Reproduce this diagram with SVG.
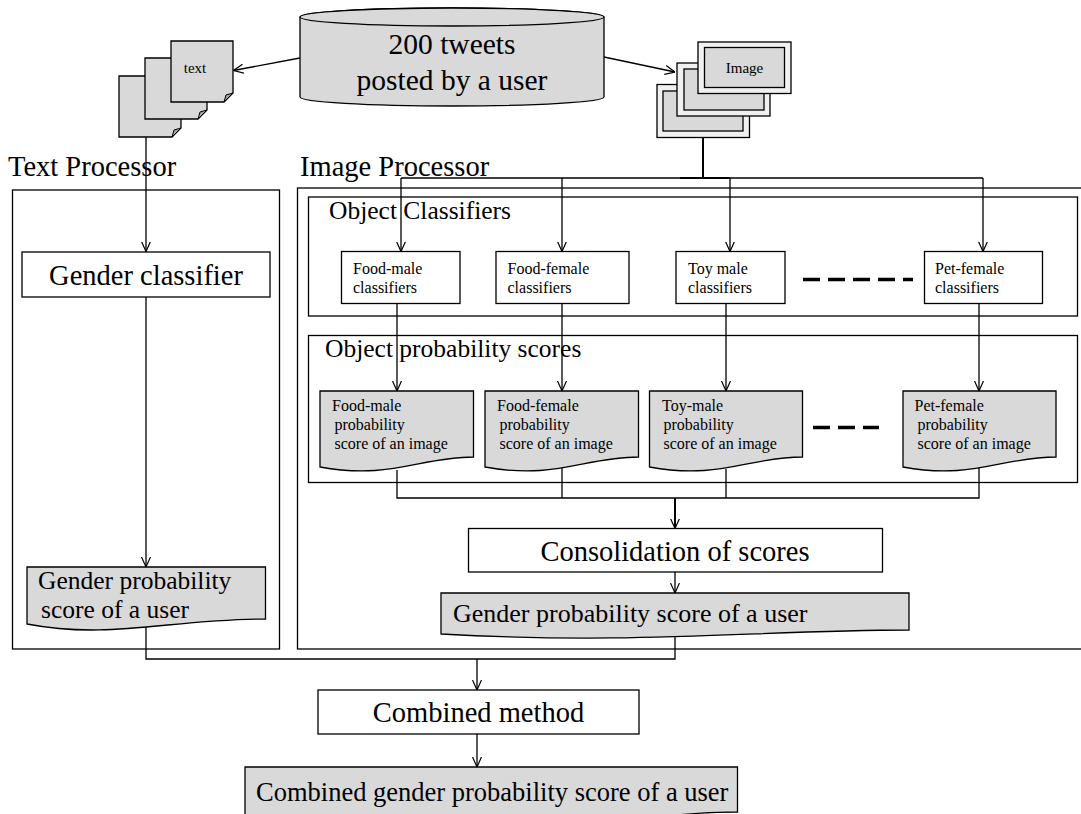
<svg xmlns="http://www.w3.org/2000/svg" width="1081" height="814" viewBox="0 0 1081 814">
<defs>
<marker id="arr" viewBox="0 0 10 10" refX="10" refY="5" markerWidth="10" markerHeight="10" markerUnits="userSpaceOnUse" orient="auto">
<path d="M0,0.5 L10,5 L0,9.5" fill="none" stroke="#000" stroke-width="1.2"/>
</marker>
<style>
text{font-family:"Liberation Serif","Times New Roman",serif;fill:#000}
.box{fill:#fff;stroke:#000;stroke-width:1.3}
.frame{fill:none;stroke:#000;stroke-width:1.3}
.gray{fill:#d9d9d9;stroke:#000;stroke-width:1.3}
.light{fill:#f0f0f0;stroke:#000;stroke-width:1.3}
.fold{fill:#a6a6a6;stroke:#000;stroke-width:1}
.ln{fill:none;stroke:#000;stroke-width:1.3}
.thick{fill:none;stroke:#000;stroke-width:2}
.dash{fill:none;stroke:#000;stroke-width:3.5;stroke-dasharray:17 8}
.big{font-size:28.5px}
.head{font-size:25.5px}
.sm{font-size:16px}
</style>
</defs>

<!-- containers -->
<g id="text-processor">
<text x="8" y="176" class="big">Text Processor</text>
<rect x="12.5" y="190" width="267" height="459" class="frame"/>
</g>
<g id="image-processor">
<text x="300" y="176" class="big">Image Processor</text>
<rect x="297.5" y="188" width="800" height="461" class="frame"/>
</g>
<g id="object-classifiers">
<rect x="308.5" y="197" width="769" height="119" class="frame"/>
<text x="329" y="219" class="head">Object Classifiers</text>
</g>
<g id="object-probability-scores">
<rect x="308.5" y="335.5" width="769" height="147" class="frame"/>
<text x="325" y="357" class="head">Object probability scores</text>
</g>

<!-- connectors -->
<g id="connectors">
<line x1="300" y1="58" x2="233.5" y2="70.5" class="ln" marker-end="url(#arr)"/>
<line x1="604" y1="57" x2="675" y2="72" class="ln" marker-end="url(#arr)"/>
<line x1="146" y1="137" x2="146" y2="251.5" class="ln" marker-end="url(#arr)"/>
<line x1="146" y1="297" x2="146" y2="567" class="ln" marker-end="url(#arr)"/>
<polyline points="703,138 703,178" class="thick"/>
<polyline points="401,178 983,178" class="ln"/>
<line x1="680" y1="178" x2="730" y2="178" class="thick"/>
<line x1="401" y1="178" x2="401" y2="251.5" class="ln" marker-end="url(#arr)"/>
<line x1="562" y1="178" x2="562" y2="251.5" class="ln" marker-end="url(#arr)"/>
<line x1="730" y1="178" x2="730" y2="251.5" class="ln" marker-end="url(#arr)"/>
<line x1="983" y1="178" x2="983" y2="251.5" class="ln" marker-end="url(#arr)"/>
<line x1="397" y1="303.5" x2="397" y2="391" class="ln" marker-end="url(#arr)"/>
<line x1="562" y1="303.5" x2="562" y2="391" class="ln" marker-end="url(#arr)"/>
<line x1="726" y1="303.5" x2="726" y2="391" class="ln" marker-end="url(#arr)"/>
<line x1="979" y1="303.5" x2="979" y2="391" class="ln" marker-end="url(#arr)"/>
<polyline points="397,470 397,498 979,498 979,465" class="ln"/>
<line x1="562" y1="468" x2="562" y2="498" class="ln"/>
<line x1="726" y1="469" x2="726" y2="498" class="ln"/>
<line x1="675" y1="498" x2="675" y2="528.5" class="thick" marker-end="url(#arr)"/>
<line x1="675" y1="572" x2="675" y2="593" class="ln" marker-end="url(#arr)"/>
<polyline points="146,626 146,659 675,659 675,637" class="ln"/>
<line x1="477" y1="659" x2="477" y2="690" class="ln" marker-end="url(#arr)"/>
<line x1="477" y1="734" x2="477" y2="767" class="ln" marker-end="url(#arr)"/>
<line x1="803" y1="279.5" x2="913" y2="279.5" class="dash"/>
<line x1="813" y1="427.5" x2="879" y2="427.5" class="dash"/>
</g>

<!-- source -->
<g id="tweets">
<path d="M300,17 V97 A152,9 0 0 0 604,97 V17 A152,9 0 0 0 300,17 Z" class="gray"/>
<ellipse cx="452" cy="17" rx="152" ry="9" class="gray"/>
<text x="452" y="54" font-size="29.5" text-anchor="middle">200 tweets</text>
<text x="452" y="90" font-size="29.5" text-anchor="middle">posted by a user</text>
</g>

<g id="text-pages">
<path d="M119,76 H181 V128 L172,137 H119 Z" class="gray"/>
<path d="M181,128 L172,137 L174,130 Z" class="fold"/>
<path d="M145,58 H207 V110 L198,119 H145 Z" class="gray"/>
<path d="M207,110 L198,119 L200,112 Z" class="fold"/>
<path d="M171,41 H233 V93 L224,102 H171 Z" class="gray"/>
<path d="M233,93 L224,102 L226,95 Z" class="fold"/>
<text x="195" y="73" font-size="15" text-anchor="middle">text</text>
</g>

<g id="image-frames">
<rect x="657" y="84.5" width="92.5" height="53" class="light"/>
<rect x="663" y="91" width="80" height="40" class="gray"/>
<rect x="677" y="63" width="93" height="53" class="light"/>
<rect x="684" y="69" width="80" height="41" class="gray"/>
<rect x="698" y="42" width="93" height="51.5" class="light"/>
<rect x="704.5" y="47.5" width="80" height="40" class="gray"/>
<text x="744.5" y="73" font-size="15" text-anchor="middle">Image</text>
</g>

<!-- text branch -->
<g id="gender-classifier">
<rect x="22" y="252" width="248" height="45" class="box"/>
<text x="146" y="285" class="big" text-anchor="middle">Gender classifier</text>
</g>
<g id="text-score">
<path d="M27,567 H265.5 V619 C170,619 110,640 27,624 Z" class="gray"/>
<text x="38" y="589" font-size="25.5">Gender probability</text>
<text x="41" y="618" font-size="25.5">score of a user</text>
</g>

<!-- classifiers -->
<g id="food-male-classifier">
<rect x="341.5" y="251.5" width="118.5" height="52" class="box"/>
<text x="353" y="274" class="sm">Food-male</text>
<text x="353" y="293" class="sm">classifiers</text>
</g>
<g id="food-female-classifier">
<rect x="496" y="251.5" width="133" height="52" class="box"/>
<text x="507.5" y="274" class="sm">Food-female</text>
<text x="507.5" y="293" class="sm">classifiers</text>
</g>
<g id="toy-male-classifier">
<rect x="676" y="251.5" width="109" height="52" class="box"/>
<text x="688" y="274" class="sm">Toy male</text>
<text x="688" y="293" class="sm">classifiers</text>
</g>
<g id="pet-female-classifier">
<rect x="924.5" y="251.5" width="118" height="52" class="box"/>
<text x="935" y="274" class="sm">Pet-female</text>
<text x="935" y="293" class="sm">classifiers</text>
</g>

<!-- object scores -->
<g id="food-male-score">
<path d="M320,391 H473.5 V457 C420,457 390,480 320,467 Z" class="gray"/>
<text x="332" y="411" class="sm">Food-male</text>
<text x="334.5" y="430" class="sm">probability</text>
<text x="334.5" y="449" class="sm">score of  an image</text>
</g>
<g id="food-female-score">
<path d="M485,391 H638.5 V457 C585,457 555,480 485,467 Z" class="gray"/>
<text x="497" y="411" class="sm">Food-female</text>
<text x="499.5" y="430" class="sm">probability</text>
<text x="499.5" y="449" class="sm">score of an image</text>
</g>
<g id="toy-male-score">
<path d="M649.5,391 H802.5 V457 C749,457 719,480 649.5,467 Z" class="gray"/>
<text x="662" y="411" class="sm">Toy-male</text>
<text x="663.5" y="430" class="sm">probability</text>
<text x="663.5" y="449" class="sm">score of an image</text>
</g>
<g id="pet-female-score">
<path d="M903,391 H1056 V457 C1002,457 972,480 903,467 Z" class="gray"/>
<text x="914.5" y="411" class="sm">Pet-female</text>
<text x="917.5" y="430" class="sm">probability</text>
<text x="917.5" y="449" class="sm">score of an image</text>
</g>

<g id="consolidation">
<rect x="468.5" y="528.5" width="414" height="43.5" class="box"/>
<text x="675" y="561" font-size="28.5" text-anchor="middle">Consolidation of scores</text>
</g>
<g id="image-score">
<path d="M441,593 H909 V630 C760,630 640,645 441,634 Z" class="gray"/>
<text x="453" y="622" font-size="26">Gender probability score of a user</text>
</g>

<g id="combined-method">
<rect x="318" y="690" width="321" height="44" class="box"/>
<text x="478.5" y="722" font-size="28.5" text-anchor="middle">Combined method</text>
</g>
<g id="combined-score">
<path d="M245,767 H737.5 V812 C650,812 600,830 560,830 L245,830 Z" class="gray"/>
<text x="256" y="801" font-size="26.5">Combined gender probability score of a user</text>
</g>
</svg>
